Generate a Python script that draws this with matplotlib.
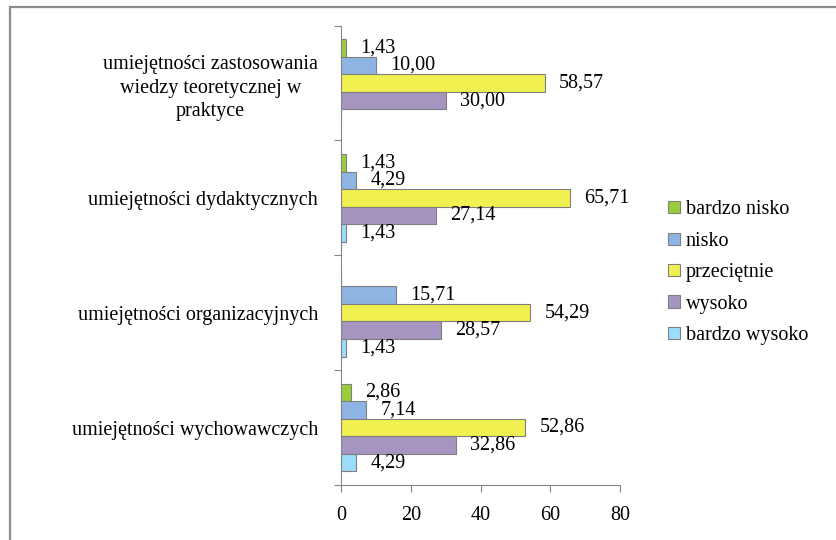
import numpy as np
import matplotlib
matplotlib.use("Agg")
import matplotlib.pyplot as plt
from matplotlib.patches import Rectangle

plt.rcParams.update({
    "font.family": "Liberation Serif",
    "font.size": 14.5,
})

# categories, top to bottom as shown
categories = [
    "umiejętności zastosowania\nwiedzy teoretycznej w\npraktyce",
    "umiejętności dydaktycznych",
    "umiejętności organizacyjnych",
    "umiejętności wychowawczych",
]
series = ["bardzo nisko", "nisko", "przeciętnie", "wysoko", "bardzo wysoko"]
colors = ["#9ACD3A", "#8EB4E3", "#F0F050", "#A795C1", "#9BDDFA"]

# values per series, in category order (nan = no bar)
bardzo_nisko = [1.43, 1.43, np.nan, 2.86]
nisko = [10.00, 4.29, 15.71, 7.14]
przecietnie = [58.57, 65.71, 54.29, 52.86]
wysoko = [30.00, 27.14, 28.57, 32.86]
bardzo_wysoko = [np.nan, 1.43, 1.43, 4.29]
values = [bardzo_nisko, nisko, przecietnie, wysoko, bardzo_wysoko]

fig = plt.figure(figsize=(8.37, 5.40), dpi=100)
ax = fig.add_axes([0.408, 0.102, 0.3326, 0.8505])

ypos = np.arange(len(categories))[::-1]
h = 0.153
for i, (name, vals, col) in enumerate(zip(series, values, colors)):
    yy = ypos + 2 * h - i * h
    v = np.array(vals)
    ax.barh(yy, np.nan_to_num(v), height=h, color=col, edgecolor="#7f7f7f",
            linewidth=0.8, label=name)
    for y, val in zip(yy, v):
        if np.isnan(val):
            continue
        ax.annotate(f"{val:.2f}".replace(".", ","), (val, y),
                    xytext=(10, 0), textcoords="offset points",
                    va="center", ha="left")

ax.set_xlim(0, 80)
ax.set_ylim(-0.5, 3.5)
ax.set_xticks([0, 20, 40, 60, 80])
ax.tick_params(axis="x", direction="out", length=5, color="#868686", pad=10)

# ticks at category borders, labels at centres
ax.set_yticks(np.arange(-0.5, 4, 1.0))
ax.set_yticklabels([])
ax.set_yticks(ypos, minor=True)
ax.set_yticklabels(categories, minor=True, ha="right", multialignment="center",
                   linespacing=1.35)
ax.tick_params(axis="y", which="major", direction="out", length=5, color="#868686")
ax.tick_params(axis="y", which="minor", length=0, pad=17)

for s in ["top", "right"]:
    ax.spines[s].set_visible(False)
for s in ["left", "bottom"]:
    ax.spines[s].set_color("#868686")

leg = ax.legend(loc="center left", frameon=False,
                handlelength=0.55, handleheight=0.55, handletextpad=0.3,
                labelspacing=0.62)
for p in leg.get_patches():
    p.set_edgecolor("#7f7f7f")
leg.set_bbox_to_anchor((0.777, 0.495), transform=fig.transFigure)

# outer chart border (right/bottom run off the image)
fig.patches.append(Rectangle((10 / 837, -0.1), 1.2, 533 / 540 + 0.1,
                             transform=fig.transFigure, fill=False,
                             edgecolor="#8c8c8c", linewidth=1.6))

fig.savefig("out.png", dpi=100)
